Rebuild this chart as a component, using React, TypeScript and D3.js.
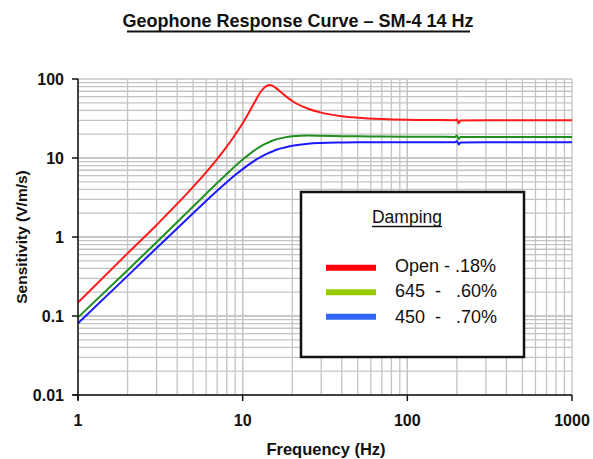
import React from "react";
import * as d3 from "d3";

const freqs = [1, 2, 3, 5, 7, 8, 9, 10, 11, 12, 13, 14, 14.5, 15, 16, 18, 20, 25, 30, 40, 50, 70, 100, 150, 195, 200, 205, 210, 300, 500, 1000];
const openValues = [0.148, 0.62, 1.42, 4.3, 9.7, 13.9, 19.7, 27.5, 38.9, 54, 71, 82, 84, 83, 76, 62, 52.7, 42, 37.5, 33.8, 32.4, 31.2, 30.5, 30.2, 30.1, 30.8, 27.5, 29.8, 30, 30, 30];
const d645Values = [0.096, 0.38, 0.86, 2.43, 4.82, 6.28, 7.89, 9.56, 11.2, 12.8, 14.2, 15.4, 15.9, 16.4, 17.2, 18.25, 18.8, 19.2, 19.1, 18.9, 18.8, 18.7, 18.6, 18.55, 18.5, 19.2, 17.3, 18.4, 18.5, 18.5, 18.5];
const d450Values = [0.081, 0.322, 0.725, 2.0, 3.85, 4.93, 6.08, 7.24, 8.37, 9.45, 10.4, 11.3, 11.65, 12.0, 12.7, 13.6, 14.3, 15.2, 15.5, 15.7, 15.8, 15.8, 15.8, 15.8, 15.8, 16.4, 14.8, 15.7, 15.8, 15.8, 15.8];

const xTicks = [1, 10, 100, 1000];
const yTicks = [0.01, 0.1, 1, 10, 100];
const xTickLabels = ["1", "10", "100", "1000"];
const yTickLabels = ["0.01", "0.1", "1", "10", "100"];

const series = [
  { name: "Open - .18%", values: openValues, color: "#ff1a1a", legendColor: "#ff0000" },
  { name: "645  -   .60%", values: d645Values, color: "#1f8f1f", legendColor: "#99cc00" },
  { name: "450  -   .70%", values: d450Values, color: "#1a1aff", legendColor: "#3366ff" },
];

const W = 593;
const H = 459;
const left = 78;
const right = 572;
const top = 79;
const bottom = 395;
const FONT = "Arial, 'Liberation Sans', sans-serif";

export default function App() {
  const x = d3.scaleLog().domain([1, 1000]).range([left, right]);
  const y = d3.scaleLog().domain([0.01, 100]).range([bottom, top]);

  const gridX: number[] = [];
  for (let d = 1; d < 1000; d *= 10) for (let k = 1; k <= 10; k++) gridX.push(d * k);
  const gridY: number[] = [];
  for (let d = 0.01; d < 99; d *= 10) for (let k = 1; k <= 10; k++) gridY.push(d * k);

  const line = d3
    .line<[number, number]>()
    .x((d) => x(d[0]))
    .y((d) => y(d[1]))
    .curve(d3.curveMonotoneX);

  const legendX = 301;
  const legendY = 192;
  const legendW = 223;
  const legendH = 165;

  return (
    <svg width={W} height={H} style={{ position: "absolute", left: 0, top: 0, background: "#fff" }} fontFamily={FONT}>
      <rect x={0} y={0} width={W} height={H} fill="#fff" />
      {/* title */}
      <text x={298} y={27} textAnchor="middle" fontSize={18} fontWeight="bold" fill="#111">
        Geophone Response Curve – SM-4 14 Hz
      </text>
      <line x1={127} x2={470} y1={31.5} y2={31.5} stroke="#111" strokeWidth={2} />

      {/* grid */}
      {gridX.map((v, i) => (
        <line key={"gx" + i} x1={x(v)} x2={x(v)} y1={top} y2={bottom} stroke="#c4c4c4" strokeWidth={1.3} />
      ))}
      {gridY.map((v, i) => (
        <line key={"gy" + i} x1={left} x2={right} y1={y(v)} y2={y(v)} stroke="#c4c4c4" strokeWidth={1.3} />
      ))}

      {/* curves */}
      {series.map((s) => (
        <path
          key={s.name}
          d={line(freqs.map((f, i) => [f, s.values[i]] as [number, number])) || ""}
          fill="none"
          stroke={s.color}
          strokeWidth={2}
        />
      ))}

      {/* axes */}
      <line x1={left} x2={left} y1={top} y2={bottom + 5} stroke="#111" strokeWidth={1.5} />
      <line x1={left - 5} x2={right} y1={bottom} y2={bottom} stroke="#111" strokeWidth={1.5} />
      {yTicks.map((v, i) => (
        <g key={"yt" + i}>
          <line x1={left - 6} x2={left} y1={y(v)} y2={y(v)} stroke="#111" strokeWidth={1.5} />
          <text x={64} y={y(v) + 6} textAnchor="end" fontSize={16} fontWeight="bold" fill="#111">
            {yTickLabels[i]}
          </text>
        </g>
      ))}
      {xTicks.map((v, i) => (
        <g key={"xt" + i}>
          <line x1={x(v)} x2={x(v)} y1={bottom} y2={bottom + 6} stroke="#111" strokeWidth={1.5} />
          <text x={x(v)} y={426} textAnchor="middle" fontSize={16} fontWeight="bold" fill="#111">
            {xTickLabels[i]}
          </text>
        </g>
      ))}
      <text x={326} y={455} textAnchor="middle" fontSize={16.5} fontWeight="bold" fill="#111">
        Frequency (Hz)
      </text>
      <text
        transform={`translate(27,${(top + bottom) / 2}) rotate(-90)`}
        textAnchor="middle"
        fontSize={15.5}
        fontWeight="bold"
        fill="#111"
      >
        Sensitivity (V/m/s)
      </text>

      {/* legend */}
      <rect x={legendX} y={legendY} width={legendW} height={legendH} fill="#fff" stroke="#111" strokeWidth={2.5} />
      <text x={407} y={223} textAnchor="middle" fontSize={17.5} fill="#111">
        Damping
      </text>
      <line x1={372} x2={442} y1={226.5} y2={226.5} stroke="#111" strokeWidth={1.5} />
      {series.map((s, i) => (
        <g key={"lg" + i}>
          <line
            x1={326}
            x2={376}
            y1={267.7 + i * 24.5}
            y2={267.7 + i * 24.5}
            stroke={s.legendColor}
            strokeWidth={6}
          />
          <text x={395} y={272 + i * 25.3} fontSize={18} fill="#111" style={{ whiteSpace: "pre" }}>
            {s.name}
          </text>
        </g>
      ))}
    </svg>
  );
}
